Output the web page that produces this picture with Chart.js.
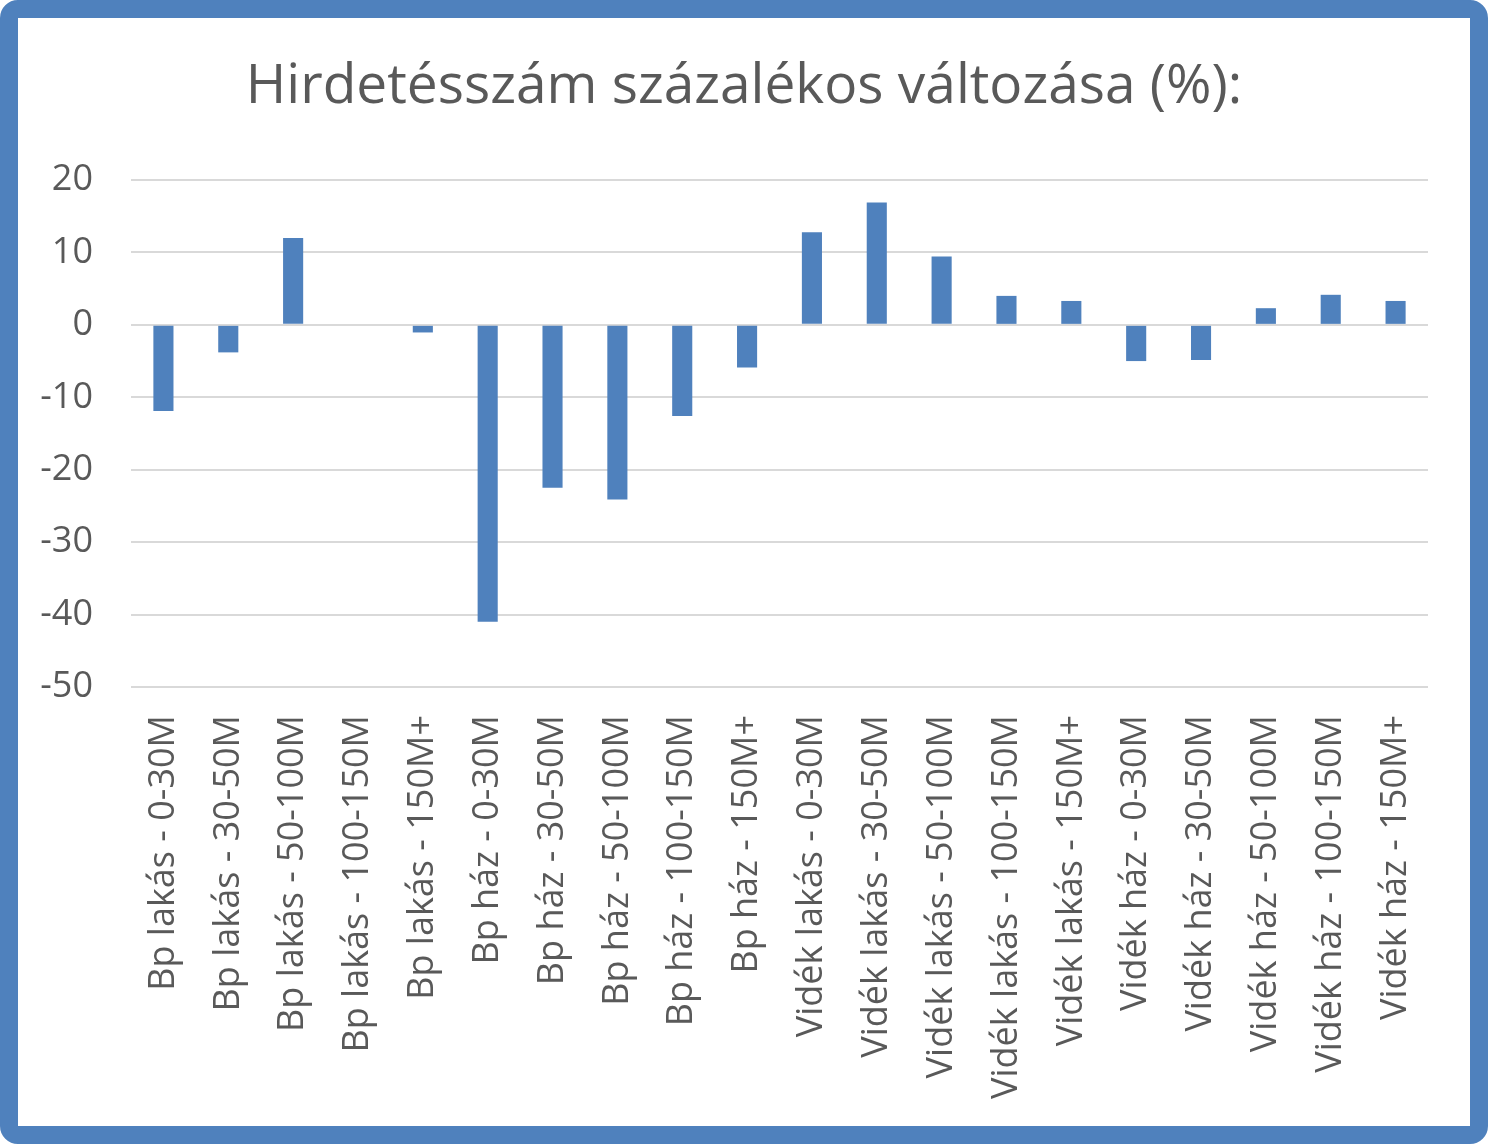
<!DOCTYPE html>
<html>
<head>
<meta charset="utf-8">
<script src="https://cdn.jsdelivr.net/npm/chart.js@4.4.1/dist/chart.umd.min.js"></script>
<style>
  html, body { margin: 0; padding: 0; background: #fff; }
  #frame {
    position: absolute; left: 0; top: 0;
    width: 1488px; height: 1144px; box-sizing: border-box;
    border: 18px solid #4F81BD; border-radius: 18px; background: #fff;
  }
  #wrap { position: absolute; left: 0; top: 0; width: 1452px; height: 1108px; }
</style>
</head>
<body>
<div id="frame"><div id="wrap"><canvas id="c" width="1452" height="1108"></canvas></div></div>
<script>
const titleText = "Hirdetésszám százalékos változása (%):";
const categories = [
  "Bp lakás - 0-30M", "Bp lakás - 30-50M", "Bp lakás - 50-100M", "Bp lakás - 100-150M", "Bp lakás - 150M+",
  "Bp ház - 0-30M", "Bp ház - 30-50M", "Bp ház - 50-100M", "Bp ház - 100-150M", "Bp ház - 150M+",
  "Vidék lakás - 0-30M", "Vidék lakás - 30-50M", "Vidék lakás - 50-100M", "Vidék lakás - 100-150M", "Vidék lakás - 150M+",
  "Vidék ház - 0-30M", "Vidék ház - 30-50M", "Vidék ház - 50-100M", "Vidék ház - 100-150M", "Vidék ház - 150M+"
];
const changes = [
  -11.9, -3.8, 12.0, 0, -1.05,
  -41.0, -22.5, -24.1, -12.6, -5.9,
  12.8, 16.9, 9.45, 4.0, 3.3,
  -5.0, -4.85, 2.3, 4.15, 3.3
];
const yMin = -50, yMax = 20, yStep = 10;

const textColor = "#595959";
const fontFamily = "'Open Sans', 'Liberation Sans', sans-serif";

new Chart(document.getElementById("c"), {
  type: "bar",
  data: {
    labels: categories,
    datasets: [{
      data: changes,
      backgroundColor: "#4F81BD",
      borderWidth: 0,
      categoryPercentage: 1.0,
      barPercentage: 0.31
    }]
  },
  options: {
    responsive: false,
    animation: false,
    layout: { padding: 0 },
    plugins: {
      legend: { display: false },
      tooltip: { enabled: false },
      title: {
        display: true,
        text: titleText,
        color: textColor,
        font: { family: fontFamily, size: 55, weight: "normal" },
        padding: { top: 36, bottom: 60 }
      }
    },
    scales: {
      x: {
        grid: { display: false, drawTicks: false },
        border: { display: false },
        ticks: {
          color: textColor,
          font: { family: fontFamily, size: 36 },
          minRotation: 90, maxRotation: 90,
          autoSkip: false,
          padding: 28
        },
        afterFit: (s) => { s.height = 439; }
      },
      y: {
        min: yMin, max: yMax,
        grid: { color: "#D9D9D9", lineWidth: 2, drawTicks: false },
        border: { display: false },
        ticks: {
          stepSize: yStep,
          color: textColor,
          font: { family: fontFamily, size: 36 },
          padding: 38
        },
        afterFit: (s) => { s.width = 113; }
      },
      yRightSpace: {
        position: "right",
        display: true,
        min: yMin, max: yMax,
        grid: { display: false, drawTicks: false },
        border: { display: false },
        ticks: { display: false },
        afterFit: (s) => { s.width = 42; }
      }
    }
  }
});
</script>
</body>
</html>
